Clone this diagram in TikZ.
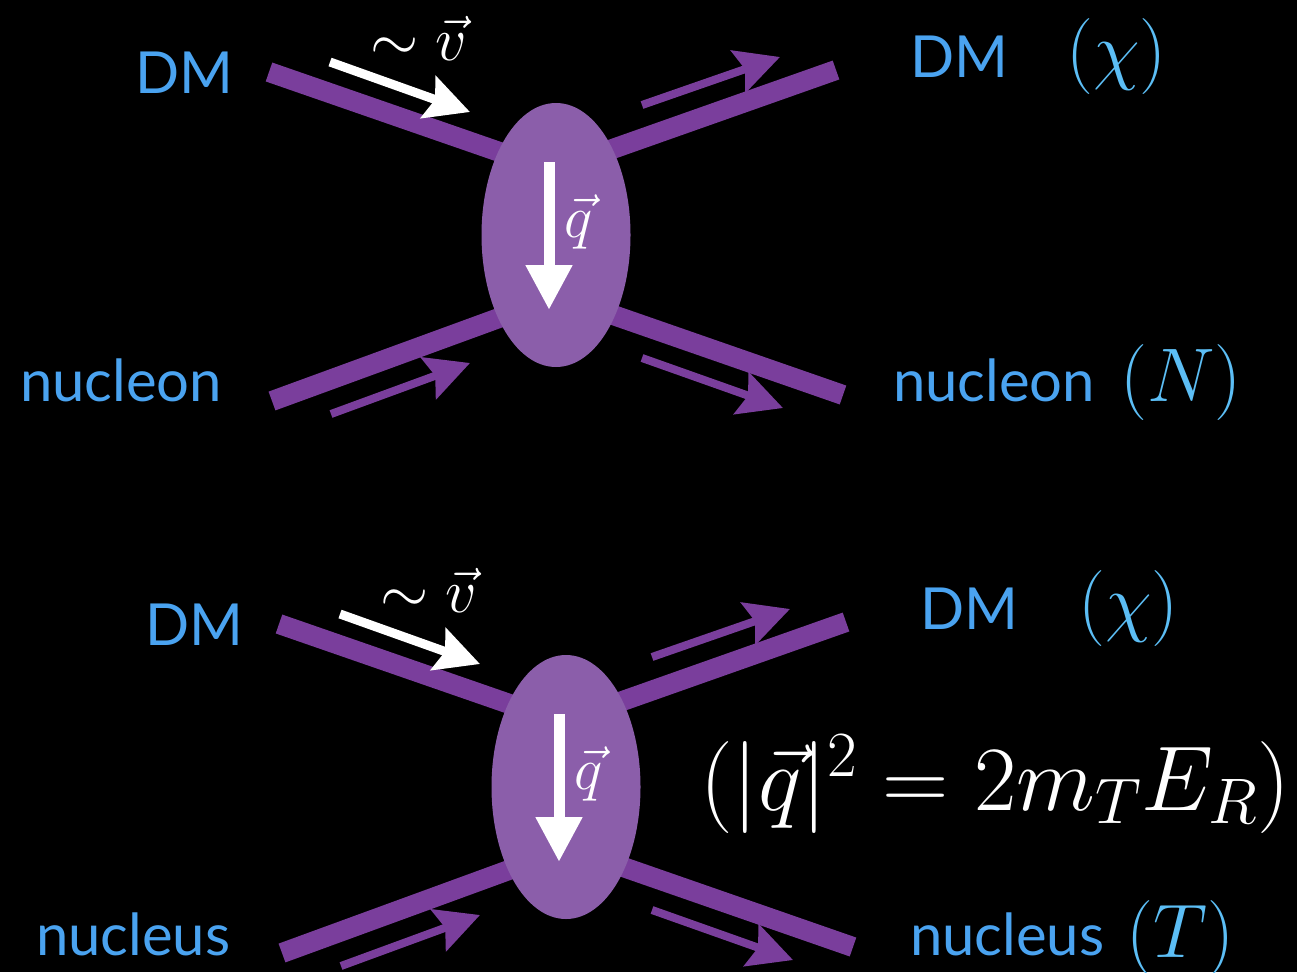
\RequirePackage{fix-cm}
\documentclass[tikz,border=0pt]{standalone}
\usepackage[no-math]{fontspec}
\setmainfont{Lato}
\usetikzlibrary{arrows.meta,shapes.geometric}
\definecolor{lineP}{RGB}{122,62,156}
\definecolor{blobP}{RGB}{139,94,170}
\definecolor{lblue}{RGB}{74,163,240}
\definecolor{mblue}{RGB}{92,190,245}
\begin{document}
\begin{tikzpicture}[x=1pt,y=-1pt,
  leg/.style={line width=20pt, draw=lineP},
  mom/.style={line width=8pt, draw=lineP, -{Stealth[length=44pt,width=44pt,inset=7pt]}},
  wmom/.style={line width=9pt, draw=white, -{Stealth[length=44pt,width=44pt,inset=7pt]}},
  qarr/.style={line width=11pt, draw=white, -{Triangle[length=45pt,width=44pt]}},
  blob/.style={ellipse, fill=blobP, minimum width=149pt, minimum height=264pt, inner sep=0pt},
  lbl/.style={text=lblue, inner sep=0pt, anchor=base west, font=\fontsize{58}{60}\selectfont},
  mlbl/.style={text=mblue, inner sep=0pt, anchor=base west, font=\fontsize{76}{84}\selectfont},
  wtxt/.style={text=white, inner sep=0pt, anchor=base west}]
\fill[black] (0,0) rectangle (1297,972);
\useasboundingbox (0,0) rectangle (1297,972);
\foreach \n/\dx/\dy in {a/0/0,b/10/552}{
\begin{scope}[shift={(\dx,\dy)}]
  \coordinate (tl\n) at (269,72);  \coordinate (tli\n) at (540,166);
  \coordinate (tr\n) at (836,70);  \coordinate (tri\n) at (570,164);
  \coordinate (bl\n) at (272,401); \coordinate (bli\n) at (540,303);
  \coordinate (br\n) at (843,395); \coordinate (bri\n) at (570,300);
  \draw[leg] (tl\n) -- (tli\n);
  \draw[leg] (tr\n) -- (tri\n);
  \draw[leg] (bl\n) -- (bli\n);
  \draw[leg] (br\n) -- (bri\n);
  \node[blob] (ell\n) at (556,235) {};
  \coordinate (m1s\n) at (642,105); \coordinate (m1e\n) at (780,57);
  \coordinate (m2s\n) at (642,358); \coordinate (m2e\n) at (783,408);
  \coordinate (m3s\n) at (331,414); \coordinate (m3e\n) at (470,363);
  \draw[mom] (m1s\n) -- (m1e\n);
  \draw[mom] (m2s\n) -- (m2e\n);
  \draw[mom] (m3s\n) -- (m3e\n);
  \coordinate (vs\n) at (330,62); \coordinate (ve\n) at (470,112);
  \draw[wmom] (vs\n) -- (ve\n);
  \coordinate (qs\n) at (549,162); \coordinate (qe\n) at (549,310);
  \draw[qarr] (qs\n) -- (qe\n);
  \node[wtxt, font=\fontsize{62}{70}\selectfont] (vl\n) at (370,60) {$\sim\vec{v}$};
  \node[wtxt, font=\fontsize{60}{66}\selectfont] (ql\n) at (564,237) {$\vec{q}$};
\end{scope}
}
% top labels
\node[lbl] (dm1) at (135,93) {DM};
\node[lbl] (nl1) at (20,401) {nucleon};
\node[lbl] (dm2) at (910,77) {DM};
\node[mlbl] (chi1) at (1066,75) {$(\chi)$};
\node[lbl] (nl2) at (893,401) {nucleon};
\node[mlbl] (nn) at (1120,401) {$(N)$};
% bottom labels
\node[lbl] (dm3) at (145,645) {DM};
\node[lbl] (ns1) at (36,955) {nucleus};
\node[lbl] (dm4) at (920,629) {DM};
\node[mlbl] (chi2) at (1078,627) {$(\chi)$};
\node[lbl] (ns2) at (910,955) {nucleus};
\node[mlbl] (tt) at (1126,957) {$(T)$};
\node[wtxt, font=\fontsize{92}{100}\selectfont] (eq) at (700,810) {$(|\vec{q}|^2 = 2m_T E_R)$};
\end{tikzpicture}
\end{document}
